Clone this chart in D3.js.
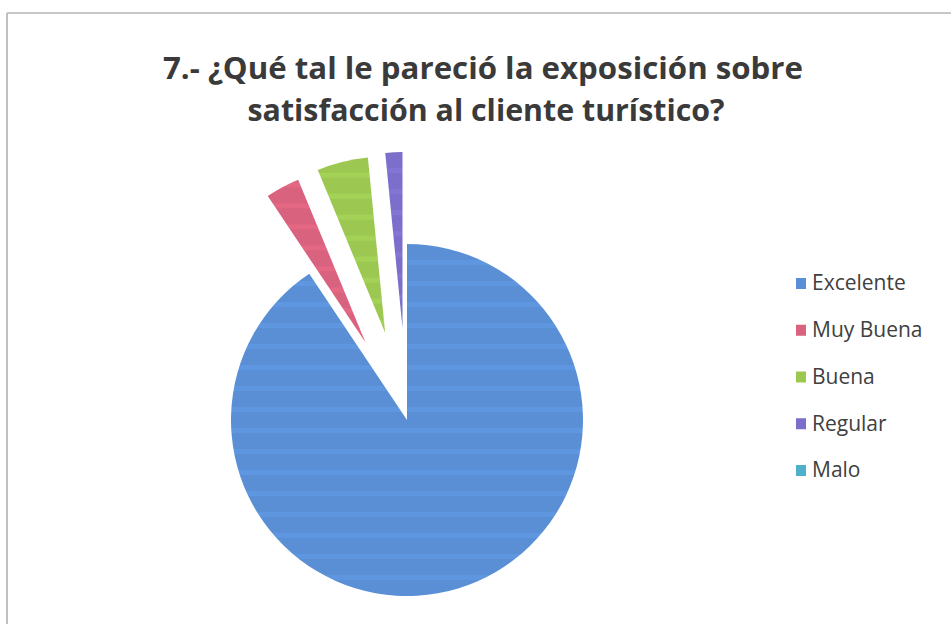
<!DOCTYPE html>
<html><head><meta charset="utf-8">
<script src="https://cdn.jsdelivr.net/npm/d3@7/dist/d3.min.js"></script>
<style>html,body{margin:0;padding:0;background:#fff;}svg{display:block;}</style>
</head><body>
<svg id="chart" width="951" height="624"></svg>
<script>
const titleLines = ["7.- ¿Qué tal le pareció la exposición sobre", "satisfacción al cliente turístico?"];
const categories = ["Excelente", "Muy Buena", "Buena", "Regular", "Malo"];
const values = [58, 2, 3, 1, 0];
const colors = ["#5a8fd6", "#d9627e", "#9cc852", "#7b6fcb", "#4fb0cc"];
const explode = [0, 88, 90, 92, 90];

const svg = d3.select("#chart");
const defs = svg.append("defs");
colors.forEach((c, i) => {
  const p = defs.append("pattern").attr("id", "stripe" + i).attr("patternUnits", "userSpaceOnUse")
    .attr("width", 20).attr("height", 21);
  p.append("rect").attr("width", 20).attr("height", 21).attr("fill", c);
  p.append("rect").attr("y", 8).attr("width", 20).attr("height", 5).attr("fill", d3.color(c).brighter(0.3)).attr("opacity", 0.45);
});

// frame
svg.append("line").attr("x1", 7).attr("x2", 951).attr("y1", 13).attr("y2", 13).attr("stroke", "#c8c8c8").attr("stroke-width", 2);
svg.append("line").attr("x1", 7).attr("x2", 7).attr("y1", 13).attr("y2", 624).attr("stroke", "#c0c0c0").attr("stroke-width", 2);

// title
svg.selectAll("text.title").data(titleLines).join("text").attr("class", "title")
  .attr("x", (d, i) => i === 0 ? 483 : 486).attr("y", (d, i) => 79 + i * 42)
  .attr("text-anchor", "middle")
  .attr("font-family", "'Open Sans', sans-serif").attr("font-weight", "bold")
  .attr("font-size", 31).attr("fill", "#3a3a3a")
  .attr("textLength", (d, i) => i === 0 ? 640 : 477).attr("lengthAdjust", "spacingAndGlyphs")
  .text(d => d);

// pie
const cx = 407, cy = 420, r = 176;
const pie = d3.pie().sort(null).value(d => d.v);
const arcs = pie(categories.map((c, i) => ({c, v: values[i], i})));
const arc = d3.arc().innerRadius(0).outerRadius(r);
const g = svg.append("g").attr("transform", `translate(${cx},${cy})`);
g.selectAll("path").data(arcs.filter(a => a.data.v > 0)).join("path")
  .attr("d", arc)
  .attr("transform", d => {
    const m = (d.startAngle + d.endAngle) / 2;
    const e = explode[d.data.i];
    return `translate(${Math.sin(m) * e},${-Math.cos(m) * e})`;
  })
  .attr("fill", d => `url(#stripe${d.data.i})`);

// legend
const leg = svg.append("g");
const ly = d3.scalePoint().domain(categories).range([283, 470]);
const items = leg.selectAll("g").data(categories).join("g")
  .attr("transform", d => `translate(796,${ly(d)})`);
items.append("rect").attr("x", 0).attr("y", -5).attr("width", 10).attr("height", 11)
  .attr("fill", (d, i) => colors[i]);
items.append("text").attr("x", 16).attr("y", 0).attr("dy", "0.35em")
  .attr("font-family", "'Open Sans', sans-serif").attr("font-size", 21).attr("fill", "#404040")
  .text(d => d);
</script>
</body></html>
